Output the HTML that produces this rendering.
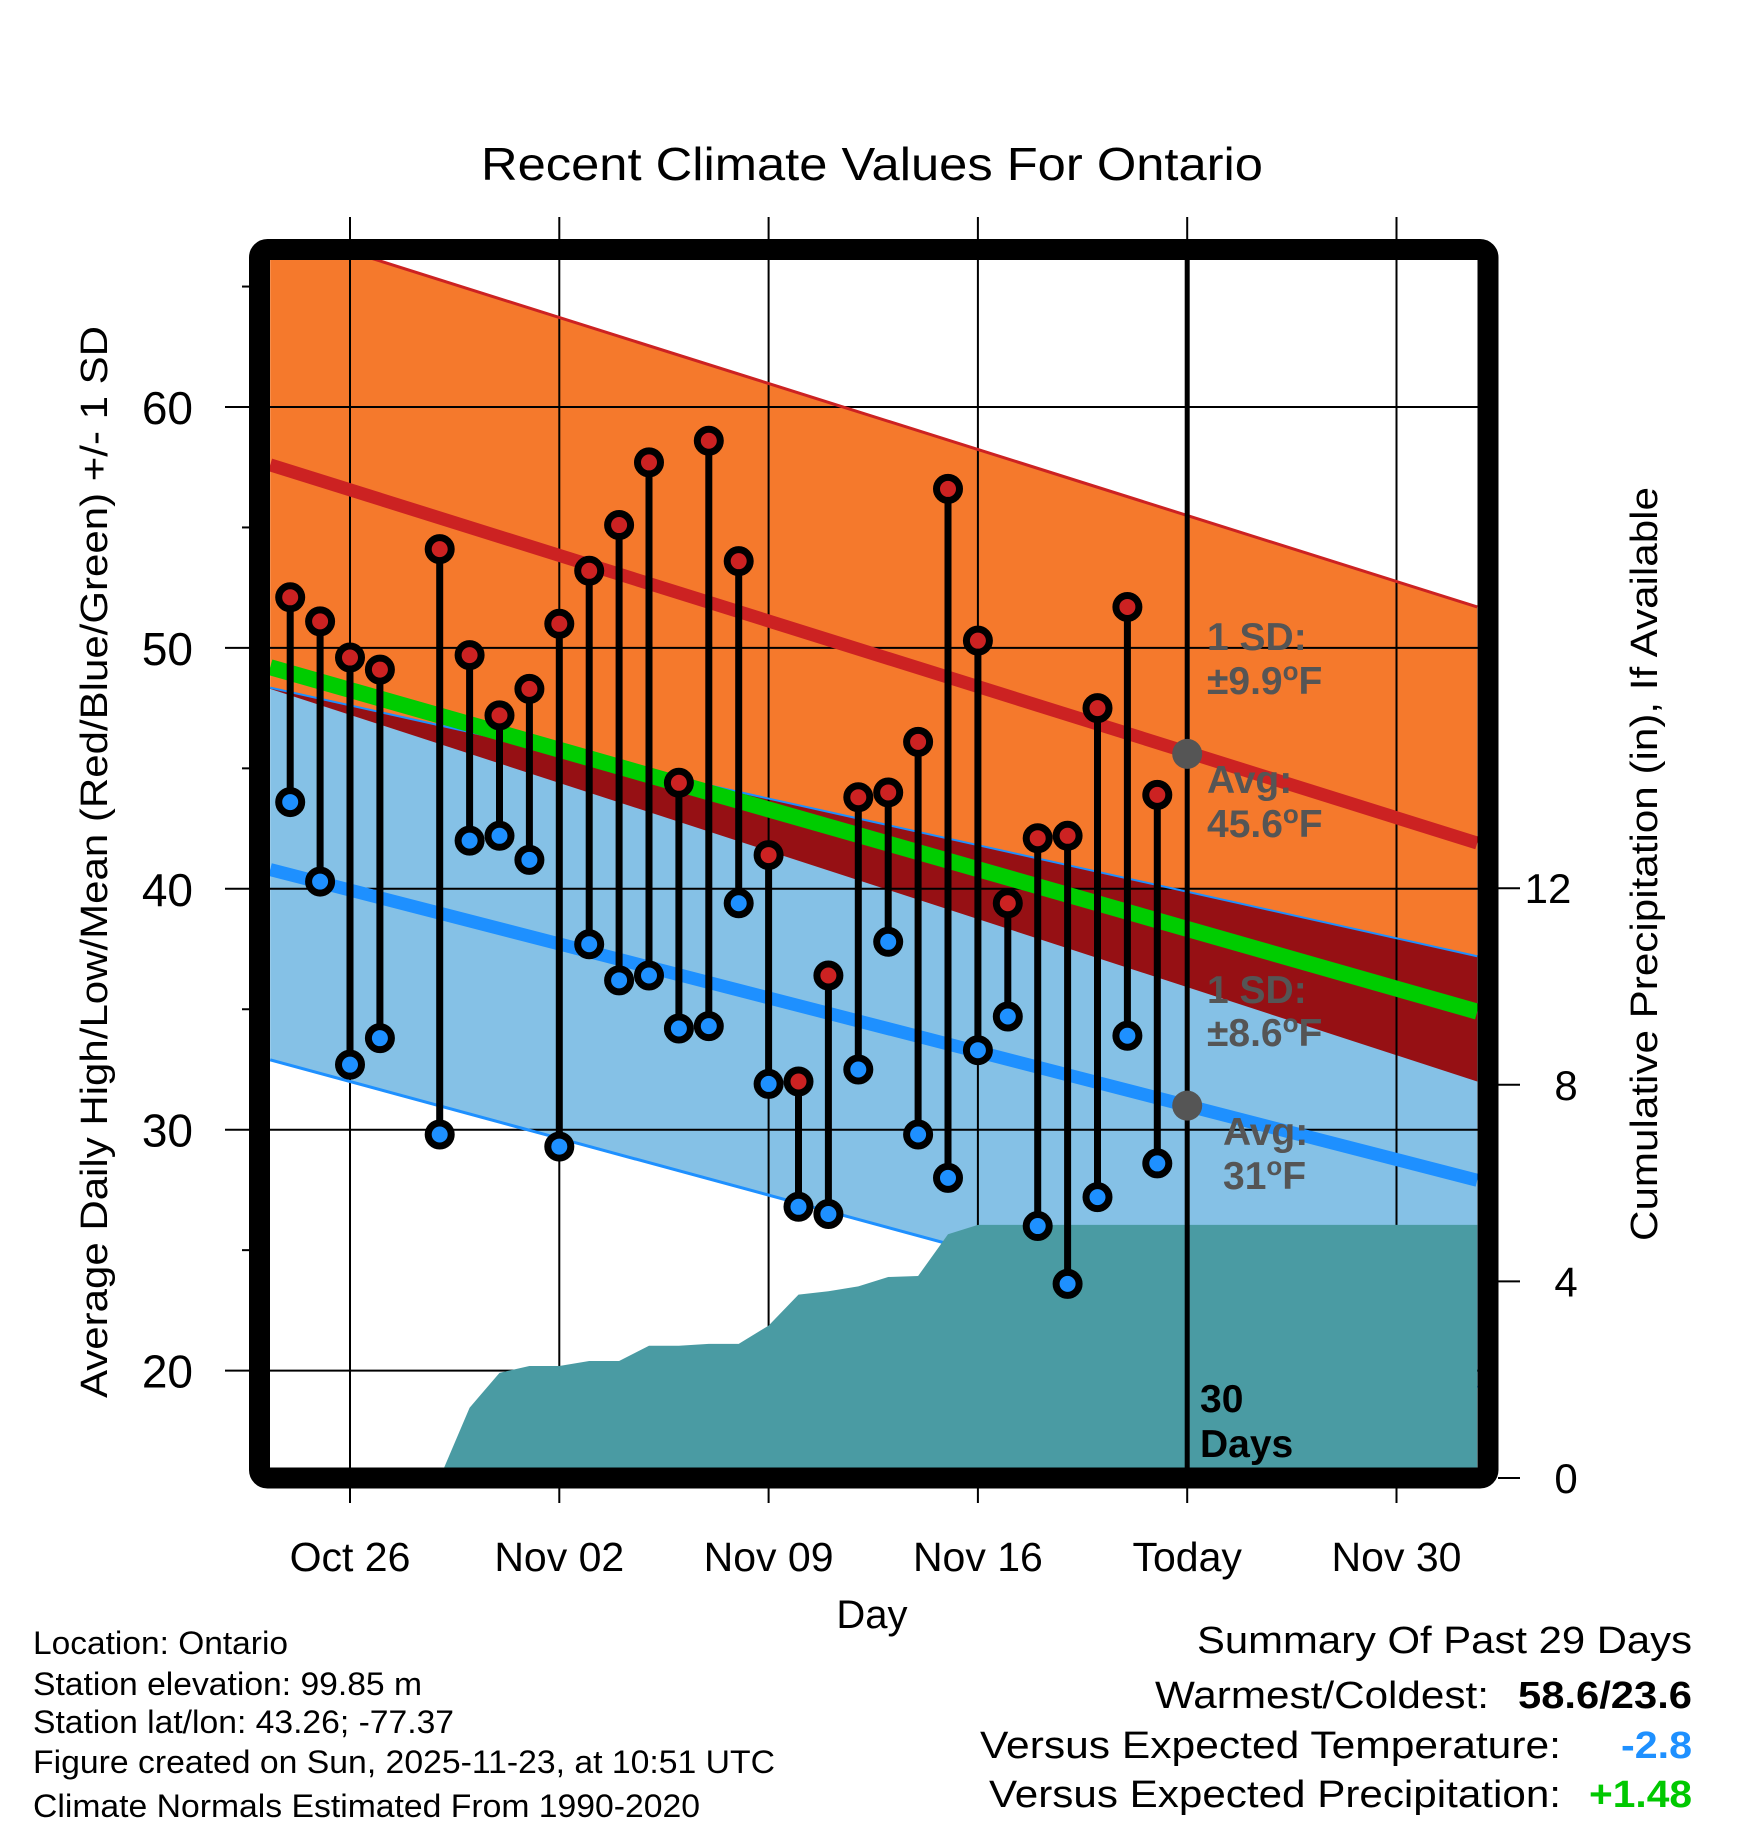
<!DOCTYPE html>
<html><head><meta charset="utf-8"><style>
html,body{margin:0;padding:0;background:#fff;}
svg{display:block;font-family:"Liberation Sans",Arial,sans-serif;}
</style></head><body>
<svg id="chart" width="1748" height="1828" viewBox="0 0 1748 1828" xmlns="http://www.w3.org/2000/svg">
<defs><clipPath id="plotclip"><rect x="270" y="260" width="1208" height="1208"/></clipPath></defs>
<g id="bands" clip-path="url(#plotclip)"></g>
<g id="grid"></g>
<g id="lines" clip-path="url(#plotclip)"></g>
<g id="precip" clip-path="url(#plotclip)"></g>
<g id="daily"></g>
<g id="annot"></g>
<rect x="259.5" y="249.5" width="1228.5" height="1228.5" rx="8" fill="none" stroke="#000" stroke-width="21"/>
<g id="axes"></g>
<text x="872" y="180" text-anchor="middle" font-size="46" textLength="782" lengthAdjust="spacingAndGlyphs">Recent Climate Values For Ontario</text>
<text x="872" y="1628" text-anchor="middle" font-size="40">Day</text>
<text transform="translate(107,862) rotate(-90)" text-anchor="middle" font-size="38" textLength="1072" lengthAdjust="spacingAndGlyphs">Average Daily High/Low/Mean (Red/Blue/Green) +/- 1 SD</text>
<text transform="translate(1657,864) rotate(-90)" text-anchor="middle" font-size="38" textLength="754" lengthAdjust="spacingAndGlyphs">Cumulative Precipitation (in), If Available</text>
<g font-size="32">
<text x="33" y="1654" textLength="255" lengthAdjust="spacingAndGlyphs">Location: Ontario</text>
<text x="33" y="1695" textLength="389" lengthAdjust="spacingAndGlyphs">Station elevation: 99.85 m</text>
<text x="33" y="1733" textLength="421" lengthAdjust="spacingAndGlyphs">Station lat/lon: 43.26; -77.37</text>
<text x="33" y="1773" textLength="742" lengthAdjust="spacingAndGlyphs">Figure created on Sun, 2025-11-23, at 10:51 UTC</text>
<text x="33" y="1817" textLength="667" lengthAdjust="spacingAndGlyphs">Climate Normals Estimated From 1990-2020</text>
</g>
<g font-size="38">
<text x="1197" y="1653" textLength="495" lengthAdjust="spacingAndGlyphs">Summary Of Past 29 Days</text>
<text x="1155" y="1708" textLength="334" lengthAdjust="spacingAndGlyphs">Warmest/Coldest:</text>
<text x="1518" y="1708" font-weight="bold" textLength="174" lengthAdjust="spacingAndGlyphs">58.6/23.6</text>
<text x="980" y="1758" textLength="581" lengthAdjust="spacingAndGlyphs">Versus Expected Temperature:</text>
<text x="1621" y="1758" font-weight="bold" fill="#1e90ff" textLength="71" lengthAdjust="spacingAndGlyphs">-2.8</text>
<text x="989" y="1807" textLength="572" lengthAdjust="spacingAndGlyphs">Versus Expected Precipitation:</text>
<text x="1589" y="1807" font-weight="bold" fill="#00c800" textLength="103" lengthAdjust="spacingAndGlyphs">+1.48</text>
</g>
</svg>
<script>
// ---- data ----
const lineDays = [-2.67, 37.7];
const highMean = [57.6, 41.9];
const highUpper = [67.5, 51.7];
const highLower = [48.3, 32.0];
const lowMean = [40.8, 27.9];
const lowUpper = [48.35, 37.2];
const lowLower = [32.9, 19.3];
const dailyDays = [-2,-1,0,1,3,4,5,6,7,8,9,10,11,12,13,14,15,16,17,18,19,20,21,22,23,24,25,26,27];
const dailyHigh = [52.1,51.1,49.6,49.1,54.1,49.7,47.2,48.3,51.0,53.2,55.1,57.7,44.4,58.6,53.6,41.4,32.0,36.4,43.8,44.0,46.1,56.6,50.3,39.4,42.1,42.2,47.5,51.7,43.9];
const dailyLow = [43.6,40.3,32.7,33.8,29.8,42.0,42.2,41.2,29.3,37.7,36.2,36.4,34.2,34.3,39.4,31.9,26.8,26.5,32.5,37.8,29.8,28.0,33.3,34.7,26.0,23.6,27.2,33.9,28.6];
const precipDays = [-2.67,3,4,5,6,7,8,9,10,11,12,13,14,15,16,17,18,19,20,21,37.7];
const precipVals = [0,0,1.43,2.14,2.28,2.28,2.38,2.38,2.69,2.69,2.73,2.73,3.1,3.73,3.8,3.9,4.09,4.11,4.96,5.15,5.15];
const xTickDays = [0,7,14,21,28,35];
const xTickLabels = ["Oct 26","Nov 02","Nov 09","Nov 16","Today","Nov 30"];
const yTicks = [20,30,40,50,60];
const yMinorTicks = [25,35,45,55,65];
const y2Ticks = [0,4,8,12];
const todayDay = 28;
const todayHighAvg = 45.6, todayLowAvg = 31.0;

// ---- scales ----
const X = d => 350 + d * 29.9;
const Y = v => 407 + (60 - v) * 24.09;
const Y2 = p => 1478 - p * 49.15;
const NS = "http://www.w3.org/2000/svg";
function mk(tag, attrs, parent){ const e=document.createElementNS(NS,tag); for(const k in attrs) e.setAttribute(k,attrs[k]); parent.appendChild(e); return e; }
const bands=document.getElementById('bands'), grid=document.getElementById('grid'), lines=document.getElementById('lines'),
 precip=document.getElementById('precip'), daily=document.getElementById('daily'), annot=document.getElementById('annot'), axes=document.getElementById('axes');
function bandPts(a,b){ return `${X(lineDays[0])},${Y(a[0])} ${X(lineDays[1])},${Y(a[1])} ${X(lineDays[1])},${Y(b[1])} ${X(lineDays[0])},${Y(b[0])}`; }

let e;
e=mk('polygon',{points:bandPts(highUpper,highLower),fill:'#f5792c'},bands);
 
e=mk('polygon',{points:bandPts(lowUpper,lowLower),fill:'#85c1e6'},bands);
 
e=mk('polygon',{points:bandPts(lowUpper,highLower),fill:'#961014'},bands);
 

// grid
xTickDays.forEach(d=>{
  e=mk('line',{x1:X(d),x2:X(d),y1:217,y2:1503,stroke:'#000','stroke-width':2},grid);
   
});
yTicks.forEach(v=>{
  e=mk('line',{x1:225,x2:1478,y1:Y(v),y2:Y(v),stroke:'#000','stroke-width':2},grid);
   
});
yMinorTicks.forEach(v=>{
  e=mk('line',{x1:242,x2:252,y1:Y(v),y2:Y(v),stroke:'#000','stroke-width':2},grid);
   
});

function line(arr,color,w,name){
  e=mk('line',{x1:X(lineDays[0]),y1:Y(arr[0]),x2:X(lineDays[1]),y2:Y(arr[1]),stroke:color,'stroke-width':w},lines);
   
}
line(highUpper,'#cc2222',3,'high-upper-sd-line');
line(lowUpper,'#1e90ff',2,'low-upper-sd-line');
line(lowLower,'#1e90ff',3,'low-lower-sd-line');
line(highMean.map((h,i)=>(h+lowMean[i])/2),'#00cc00',16,'mean-line');
line(highMean,'#cc2222',13,'high-mean-line');
line(lowMean,'#1e90ff',13,'low-mean-line');

// precip
let pp = precipDays.map((d,i)=>`${X(d)},${Y2(precipVals[i])}`).join(' ');
pp += ` ${X(precipDays[precipDays.length-1])},1490 ${X(precipDays[0])},1490`;
e=mk('polygon',{points:pp,fill:'#4a9ba3'},precip);
 

// today line
e=mk('line',{x1:X(todayDay),x2:X(todayDay),y1:260,y2:1468,stroke:'#000','stroke-width':5},annot);
 

// daily stems
dailyDays.forEach((d,i)=>{
  const g=mk('g',{},daily);
   
  e=mk('line',{x1:X(d),x2:X(d),y1:Y(dailyHigh[i]),y2:Y(dailyLow[i]),stroke:'#000','stroke-width':7},g);
   
  e=mk('circle',{cx:X(d),cy:Y(dailyHigh[i]),r:11.5,fill:'#cc2222',stroke:'#000','stroke-width':7},g);
   
  e=mk('circle',{cx:X(d),cy:Y(dailyLow[i]),r:11.5,fill:'#1e90ff',stroke:'#000','stroke-width':7},g);
   
});

// today dots + labels
e=mk('circle',{cx:X(todayDay),cy:Y(todayHighAvg),r:15,fill:'#555'},annot);
 
e=mk('circle',{cx:X(todayDay),cy:Y(todayLowAvg),r:15,fill:'#555'},annot);
 
function lab(x,y,txt,deg,name,fill){
  e=mk('text',{x:x,y:y,'font-size':39,'font-weight':'bold',fill:fill||'#555'},annot);
   
  e.appendChild(document.createTextNode(txt));
  if(deg){ const t=mk('tspan',{'font-size':26,dy:-14},e); t.textContent='o'; const t2=mk('tspan',{dy:14},e); t2.textContent='F'; }
}
lab(1207,650,'1 SD:',false,'high-sd-label');
lab(1207,694,'\u00B19.9',true,'high-sd-value');
lab(1207,793,'Avg:',false,'high-avg-label');
lab(1207,837,'45.6',true,'high-avg-value');
lab(1207,1003,'1 SD:',false,'low-sd-label');
lab(1207,1046,'\u00B18.6',true,'low-sd-value');
lab(1223,1145,'Avg:',false,'low-avg-label');
lab(1223,1189,'31',true,'low-avg-value');
lab(1200,1412,'30',false,'days-count-label','#000');
lab(1200,1457,'Days',false,'days-label','#000');

// axes labels
xTickDays.forEach((d,i)=>{
  e=mk('text',{x:X(d),y:1571,'text-anchor':'middle','font-size':41},axes);
   
  e.textContent=xTickLabels[i];
});
yTicks.forEach(v=>{
  e=mk('text',{x:193,y:Y(v)+17,'text-anchor':'end','font-size':46},axes);
   
  e.textContent=String(v);
});
y2Ticks.forEach(p=>{
  e=mk('line',{x1:1498,x2:1520,y1:Y2(p),y2:Y2(p),stroke:'#000','stroke-width':2},axes);
   
  e=mk('text',{x:p<10?1566:1548,y:Y2(p)+15,'text-anchor':'middle','font-size':42},axes);
   
  e.textContent=String(p);
});
</script>
</body></html>
